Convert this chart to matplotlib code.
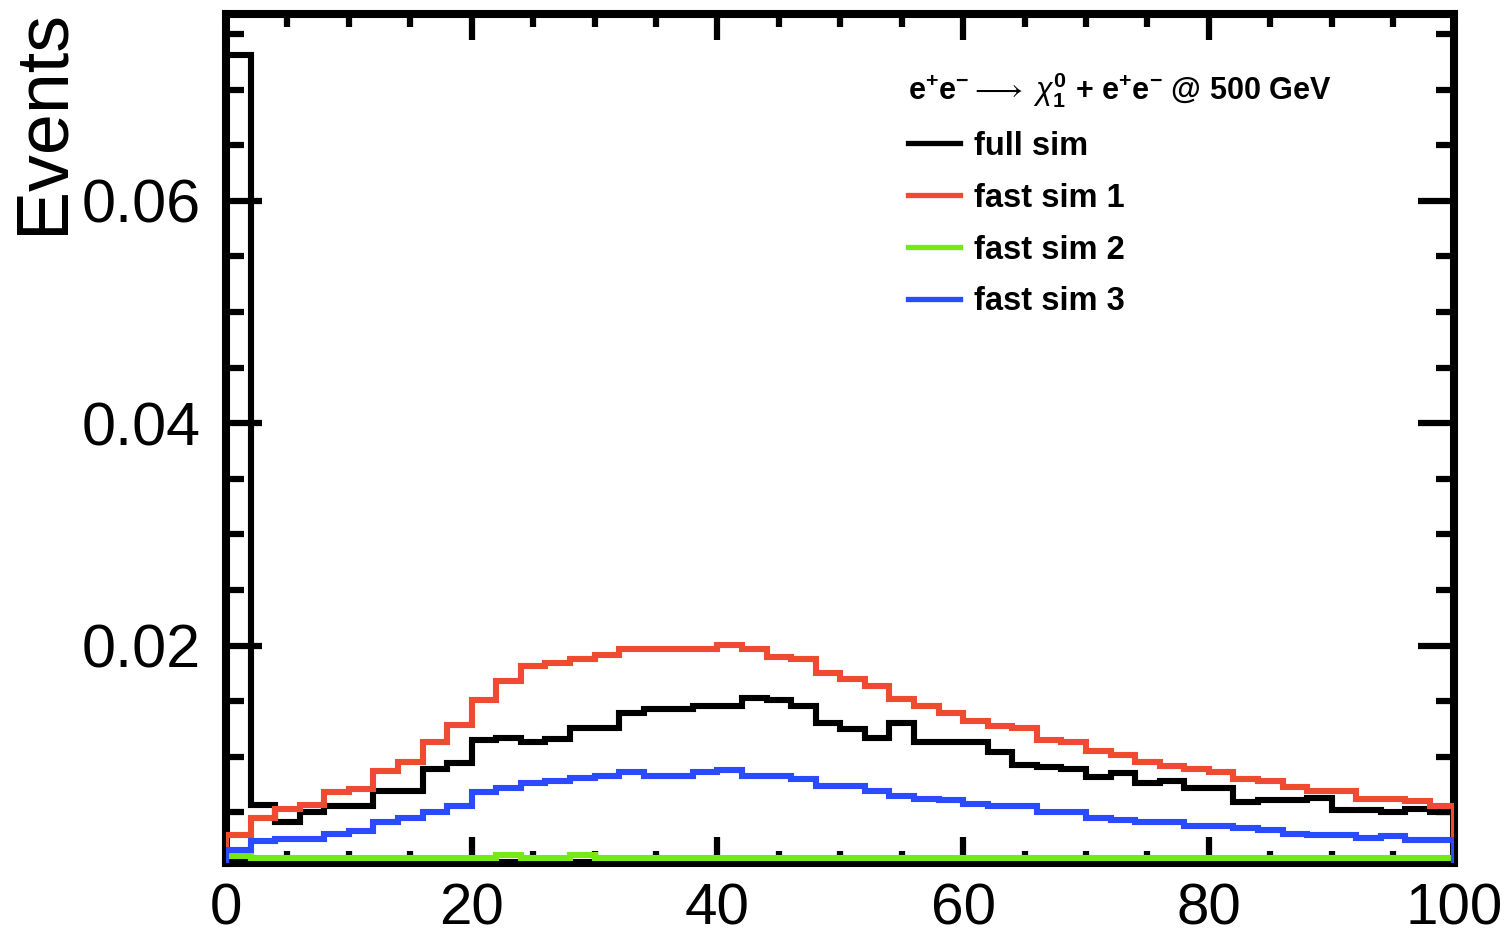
import matplotlib
matplotlib.use("Agg")
import matplotlib.pyplot as plt
import numpy as np
from matplotlib.lines import Line2D
from matplotlib.ticker import MultipleLocator, FormatStrFormatter

plt.rcParams['font.family'] = ['Liberation Sans', 'DejaVu Sans']
plt.rcParams['mathtext.fontset'] = 'custom'
plt.rcParams['mathtext.rm'] = 'Liberation Sans:bold'
plt.rcParams['mathtext.it'] = 'Liberation Sans:italic'
plt.rcParams['mathtext.bf'] = 'Liberation Sans:bold'

# Histogram data (50 bins of width 2 between 0 and 100), normalised
bin_edges = np.linspace(0, 100, 51)

full_sim = [0.0731, 0.0057, 0.0041, 0.0050, 0.0056, 0.0056, 0.0069, 0.0069, 0.0089, 0.0094,
            0.0115, 0.0117, 0.0113, 0.0116, 0.0126, 0.0126, 0.0139, 0.0143, 0.0143, 0.0146,
            0.0146, 0.0153, 0.0151, 0.0146, 0.0130, 0.0125, 0.0117, 0.0130, 0.0113, 0.0113,
            0.0113, 0.0104, 0.0093, 0.0091, 0.0089, 0.0082, 0.0085, 0.0076, 0.0078, 0.0072,
            0.0072, 0.0059, 0.0061, 0.0061, 0.0063, 0.0052, 0.0052, 0.0050, 0.0053, 0.0050]

fast_sim_1 = [0.0030, 0.0045, 0.0053, 0.0057, 0.0068, 0.0071, 0.0087, 0.0095, 0.0113, 0.0129,
              0.0151, 0.0168, 0.0182, 0.0184, 0.0188, 0.0192, 0.0197, 0.0197, 0.0197, 0.0197,
              0.0201, 0.0197, 0.0190, 0.0188, 0.0175, 0.0170, 0.0164, 0.0152, 0.0146, 0.0139,
              0.0132, 0.0128, 0.0126, 0.0115, 0.0113, 0.0105, 0.0102, 0.0095, 0.0092, 0.0089,
              0.0086, 0.0080, 0.0078, 0.0073, 0.0069, 0.0069, 0.0062, 0.0062, 0.0060, 0.0056]

fast_sim_2 = [0.0011, 0.0009, 0.0009, 0.0009, 0.0009, 0.0009, 0.0009, 0.0009, 0.0009, 0.0009,
              0.0009, 0.0012, 0.0009, 0.0009, 0.0012, 0.0009, 0.0009, 0.0009, 0.0009, 0.0009,
              0.0009, 0.0009, 0.0009, 0.0009, 0.0009, 0.0009, 0.0009, 0.0009, 0.0009, 0.0009,
              0.0009, 0.0009, 0.0009, 0.0009, 0.0009, 0.0009, 0.0009, 0.0009, 0.0009, 0.0009,
              0.0009, 0.0009, 0.0009, 0.0009, 0.0009, 0.0009, 0.0009, 0.0009, 0.0009, 0.0009]

fast_sim_3 = [0.0016, 0.0024, 0.0026, 0.0026, 0.0031, 0.0033, 0.0041, 0.0045, 0.0050, 0.0056,
              0.0068, 0.0072, 0.0076, 0.0078, 0.0081, 0.0083, 0.0086, 0.0083, 0.0083, 0.0086,
              0.0088, 0.0083, 0.0083, 0.0080, 0.0074, 0.0074, 0.0069, 0.0065, 0.0062, 0.0061,
              0.0058, 0.0056, 0.0056, 0.0050, 0.0050, 0.0045, 0.0043, 0.0041, 0.0041, 0.0038,
              0.0038, 0.0036, 0.0034, 0.0031, 0.0030, 0.0030, 0.0027, 0.0029, 0.0025, 0.0025]

labels = ['full sim', 'fast sim 1', 'fast sim 2', 'fast sim 3']
colors = ['black', '#ef4a32', '#78e814', '#2a4bff']
header = r'e$^{+}$e$^{-}$$\longrightarrow$ $\chi^{0}_{1}$ + e$^{+}$e$^{-}$ @ 500 GeV'

# Figure
fig = plt.figure(figsize=(15.06, 9.35), dpi=100)
ax = fig.add_axes([0.1501, 0.0770, 0.8157, 0.9080])

for values, color in zip([full_sim, fast_sim_1, fast_sim_2, fast_sim_3], colors):
    ax.stairs(values, bin_edges, color=color, linewidth=4.4, zorder=3)

ax.set_xlim(0, 100)
ax.set_ylim(0.00045, 0.0768)

# Axis styling (ROOT look)
for side in ax.spines.values():
    side.set_linewidth(5.8)

ax.xaxis.set_major_locator(MultipleLocator(20))
ax.xaxis.set_minor_locator(MultipleLocator(5))
ax.yaxis.set_major_locator(MultipleLocator(0.02))
ax.yaxis.set_minor_locator(MultipleLocator(0.005))
ax.yaxis.set_major_formatter(FormatStrFormatter('%.2f'))

ax.tick_params(axis='both', which='both', direction='in', top=True, right=True, width=4.5)
ax.tick_params(axis='y', which='major', length=26, labelsize=44, pad=18)
ax.tick_params(axis='y', which='minor', length=13)
ax.tick_params(axis='x', which='major', length=19, labelsize=42, pad=14)
ax.tick_params(axis='x', which='minor', length=9)

ax.set_ylabel('Events', fontsize=53, loc='top')
ax.yaxis.set_label_coords(-0.121, 1.006)

# Legend
handles = [Line2D([0], [0], color=c, linewidth=3.8) for c in colors]
leg = ax.legend(handles, labels, title=header, loc='upper left',
                bbox_to_anchor=(0.555, 0.934), frameon=False, alignment='left',
                prop={'size': 23.5, 'weight': 'bold'}, title_fontproperties={'size': 22, 'weight': 'bold'},
                handlelength=1.6, handletextpad=0.42, labelspacing=0.64,
                borderpad=0, borderaxespad=0)

fig.savefig('out.png', dpi=100)
